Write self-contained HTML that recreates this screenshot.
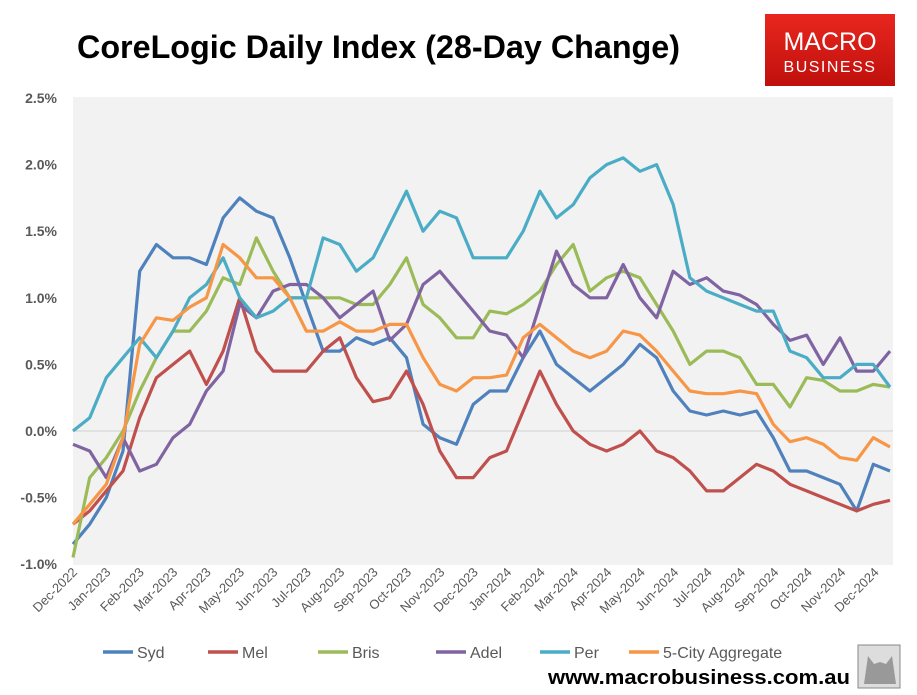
<!DOCTYPE html>
<html><head><meta charset="utf-8"><style>
body{margin:0;background:#fff;width:917px;height:690px;overflow:hidden;font-family:"Liberation Sans",sans-serif}
</style></head><body>
<svg id="chart" width="917" height="690" xmlns="http://www.w3.org/2000/svg">
<text x="77" y="58" font-size="32" font-weight="bold" textLength="603" lengthAdjust="spacingAndGlyphs" font-family="Liberation Sans, sans-serif" fill="#000">CoreLogic Daily Index (28-Day Change)</text>
<g>
<defs><linearGradient id="lg" x1="0" y1="0" x2="0" y2="1"><stop offset="0" stop-color="#e8261f"/><stop offset="1" stop-color="#c0100c"/></linearGradient></defs>
<rect x="765" y="14" width="130" height="72" fill="url(#lg)"/>
<text x="830" y="50" font-size="25" fill="#fff" text-anchor="middle" font-family="Liberation Sans, sans-serif">MACRO</text>
<text x="830" y="72" font-size="16" fill="#fff" text-anchor="middle" letter-spacing="1.5" font-family="Liberation Sans, sans-serif">BUSINESS</text>
</g>
<rect x="73" y="97" width="820" height="468" fill="#f2f2f2"/>
<g id="yaxis"></g><g id="xaxis"></g><g id="series"></g><g id="legend"></g>
<text x="548" y="684" font-size="20" font-weight="bold" textLength="302" lengthAdjust="spacingAndGlyphs" font-family="Liberation Sans, sans-serif" fill="#000">www.macrobusiness.com.au</text>
<g><rect x="858" y="645" width="42" height="43" fill="#ddd" stroke="#888"/><path d="M864 684 L868 656 L874 664 L880 662 L886 664 L892 656 L896 684 Z" fill="#999"/></g>
</svg>
<script>
const months=["Dec-2022","Jan-2023","Feb-2023","Mar-2023","Apr-2023","May-2023","Jun-2023","Jul-2023","Aug-2023","Sep-2023","Oct-2023","Nov-2023","Dec-2023","Jan-2024","Feb-2024","Mar-2024","Apr-2024","May-2024","Jun-2024","Jul-2024","Aug-2024","Sep-2024","Oct-2024","Nov-2024","Dec-2024"];
const yTicks=[2.5,2.0,1.5,1.0,0.5,0.0,-0.5,-1.0];
const seriesNames=["Syd","Mel","Bris","Adel","Per","5-City Aggregate"];
const syd=[-0.85,-0.7,-0.5,-0.15,1.2,1.4,1.3,1.3,1.25,1.6,1.75,1.65,1.6,1.3,0.95,0.6,0.6,0.7,0.65,0.7,0.55,0.05,-0.05,-0.1,0.2,0.3,0.3,0.55,0.75,0.5,0.4,0.3,0.4,0.5,0.65,0.55,0.3,0.15,0.12,0.15,0.12,0.15,-0.05,-0.3,-0.3,-0.35,-0.4,-0.6,-0.25,-0.3];
const mel=[-0.7,-0.6,-0.45,-0.3,0.1,0.4,0.5,0.6,0.35,0.6,1.0,0.6,0.45,0.45,0.45,0.6,0.7,0.4,0.22,0.25,0.45,0.2,-0.15,-0.35,-0.35,-0.2,-0.15,0.15,0.45,0.2,0.0,-0.1,-0.15,-0.1,0.0,-0.15,-0.2,-0.3,-0.45,-0.45,-0.35,-0.25,-0.3,-0.4,-0.45,-0.5,-0.55,-0.6,-0.55,-0.52];
const bris=[-0.95,-0.35,-0.2,0.0,0.3,0.55,0.75,0.75,0.9,1.15,1.1,1.45,1.2,1.0,1.0,1.0,1.0,0.95,0.95,1.1,1.3,0.95,0.85,0.7,0.7,0.9,0.88,0.95,1.05,1.25,1.4,1.05,1.15,1.2,1.15,0.95,0.75,0.5,0.6,0.6,0.55,0.35,0.35,0.18,0.4,0.38,0.3,0.3,0.35,0.33];
const adel=[-0.1,-0.15,-0.35,-0.05,-0.3,-0.25,-0.05,0.05,0.3,0.45,0.95,0.85,1.05,1.1,1.1,1.0,0.85,0.95,1.05,0.68,0.8,1.1,1.2,1.05,0.9,0.75,0.72,0.55,0.95,1.35,1.1,1.0,1.0,1.25,1.0,0.85,1.2,1.1,1.15,1.05,1.02,0.95,0.8,0.68,0.72,0.5,0.7,0.45,0.45,0.6];
const per=[0.0,0.1,0.4,0.55,0.7,0.55,0.75,1.0,1.1,1.3,1.0,0.85,0.9,1.0,1.0,1.45,1.4,1.2,1.3,1.55,1.8,1.5,1.65,1.6,1.3,1.3,1.3,1.5,1.8,1.6,1.7,1.9,2.0,2.05,1.95,2.0,1.7,1.15,1.05,1.0,0.95,0.9,0.9,0.6,0.55,0.4,0.4,0.5,0.5,0.33];
const agg=[-0.7,-0.55,-0.4,-0.05,0.65,0.85,0.83,0.93,1.0,1.4,1.3,1.15,1.15,1.0,0.75,0.75,0.82,0.75,0.75,0.8,0.8,0.55,0.35,0.3,0.4,0.4,0.42,0.7,0.8,0.7,0.6,0.55,0.6,0.75,0.72,0.6,0.45,0.3,0.28,0.28,0.3,0.28,0.05,-0.08,-0.05,-0.1,-0.2,-0.22,-0.05,-0.12];
const colors=["#4F81BD","#C0504D","#9BBB59","#8064A2","#4BACC6","#F79646"];
const allSeries=[syd,mel,bris,adel,per,agg];
const NS="http://www.w3.org/2000/svg";
const y=v=>431-v*133.2;
const xi=(i,n)=>73+i*(817/(n-1));
const xm=m=>73+m*33.4;
function mk(t,a,p){const e=document.createElementNS(NS,t);for(const k in a)e.setAttribute(k,a[k]);p.appendChild(e);return e;}
const ya=document.getElementById('yaxis');
yTicks.forEach(v=>{
  if(v===0){const g=mk('line',{x1:73,x2:893,y1:y(0),y2:y(0),stroke:'#d0d0d0','stroke-width':1},ya);
  
  }
  const t=mk('text',{x:57,y:y(v)+5,'text-anchor':'end','font-size':14,'font-weight':'bold',fill:'#595959','font-family':'Liberation Sans, sans-serif'},ya);
  t.textContent=v.toFixed(1)+'%';
  
  
});
const xa=document.getElementById('xaxis');
months.forEach((m,i)=>{
  const px=xm(i)+5,py=573;
  const t=mk('text',{x:px,y:py,'text-anchor':'end','font-size':13,fill:'#595959',transform:`rotate(-45 ${px} ${py})`,'font-family':'Liberation Sans, sans-serif'},xa);
  t.textContent=m;
  
  
});
const sg=document.getElementById('series');
allSeries.forEach((s,k)=>{
  const d=s.map((v,i)=>(i?'L':'M')+xi(i,s.length).toFixed(1)+' '+y(v).toFixed(1)).join(' ');
  const p=mk('path',{d:d,fill:'none',stroke:colors[k],'stroke-width':3.2,'stroke-linejoin':'round'},sg);
  
  
});
const lg=document.getElementById('legend');
const lx=[103,208,318,436,540,629];
seriesNames.forEach((n,k)=>{
  const g=mk('g',{},lg);
  
  
  mk('line',{x1:lx[k],x2:lx[k]+30,y1:652,y2:652,stroke:colors[k],'stroke-width':3.5},g);
  const t=mk('text',{x:lx[k]+34,y:658,'font-size':16,fill:'#595959','font-family':'Liberation Sans, sans-serif'},g);
  t.textContent=n;
});
</script>
</body></html>
